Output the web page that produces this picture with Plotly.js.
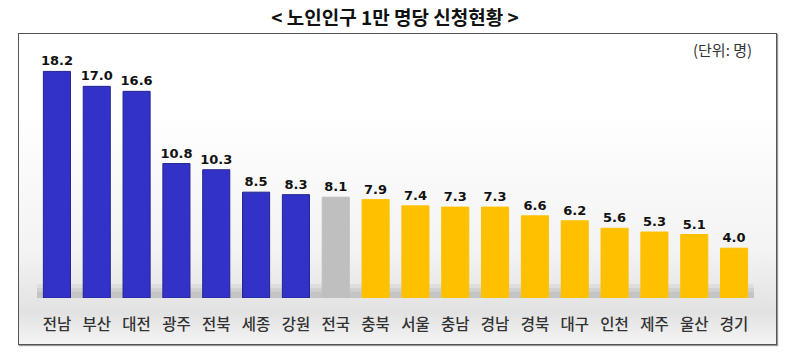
<!DOCTYPE html>
<html>
<head>
<meta charset="utf-8">
<script src="https://cdn.plot.ly/plotly-3.0.1.min.js"></script>
<style>
  html, body { margin: 0; padding: 0; background: #ffffff; }
  #wrap { position: relative; width: 790px; height: 364px; }
  #box {
    position: absolute; left: 18px; top: 33px; width: 757px; height: 310px;
    border: 1px solid #555; box-shadow: 1px 1px 1px #999;
    background: linear-gradient(to bottom, #ffffff 0%, #ffffff 25%, #f3f3f3 70%, #e2e2e2 90%, #f4f4f4 100%);
  }
  #chart { position: absolute; left: 0; top: 0; width: 790px; height: 364px; }
</style>
</head>
<body>
<div id="wrap">
  <div id="box"></div>
  <div id="chart"></div>
</div>
<script>
const categories = ['전남','부산','대전','광주','전북','세종','강원','전국','충북','서울','충남','경남','경북','대구','인천','제주','울산','경기'];
const values = [18.2, 17.0, 16.6, 10.8, 10.3, 8.5, 8.3, 8.1, 7.9, 7.4, 7.3, 7.3, 6.6, 6.2, 5.6, 5.3, 5.1, 4.0];
const groups = ['top','top','top','top','top','top','top','nation','rest','rest','rest','rest','rest','rest','rest','rest','rest','rest'];

const colorMap = { top: '#3232C8', nation: '#BFBFBF', rest: '#FFC000' };
const lineMap = { top: '#24248f', nation: '#BFBFBF', rest: '#FFC000' };

const trace = {
  type: 'bar',
  x: categories,
  y: values,
  width: 0.68,
  marker: {
    color: groups.map(g => colorMap[g]),
    line: { color: groups.map(g => lineMap[g]), width: 1 }
  },
  text: values.map(v => v.toFixed(1)),
  textposition: 'outside',
  constraintext: 'none',
  cliponaxis: false,
  textfont: { family: 'DejaVu Sans, Verdana, sans-serif', size: 13, color: '#111', weight: 'bold' },
  hoverinfo: 'skip'
};

const shadowLayers = [
  { y1: 1.1, a: 0.10 },
  { y1: 0.8, a: 0.12 },
  { y1: 0.5, a: 0.12 }
];

const layout = {
  width: 790, height: 364,
  margin: { l: 37, r: 36, t: 49, b: 66 },
  paper_bgcolor: 'rgba(0,0,0,0)',
  plot_bgcolor: 'rgba(0,0,0,0)',
  showlegend: false,
  bargap: 0.32,
  title: {
    text: '< 노인인구 1만 명당 신청현황 >',
    font: { family: 'Noto Sans CJK KR, sans-serif', size: 19, color: '#111', weight: 'bold' },
    x: 0.5, xanchor: 'center', y: 0.95, yanchor: 'middle', yref: 'container'
  },
  xaxis: {
    type: 'category',
    showgrid: false, zeroline: false, showline: false,
    ticks: 'outside', ticklen: 12, tickcolor: 'rgba(0,0,0,0)',
    tickfont: { family: 'Noto Sans CJK KR, sans-serif', size: 15.5, color: '#333', weight: 500 },
    fixedrange: true
  },
  yaxis: {
    range: [0, 20],
    showgrid: false, zeroline: false, showline: false, showticklabels: false, ticks: '',
    fixedrange: true
  },
  shapes: shadowLayers.map(s => ({
    type: 'rect', layer: 'below', xref: 'x', yref: 'y',
    x0: -0.5, x1: 17.5, y0: 0, y1: s.y1,
    fillcolor: 'rgba(120,120,120,' + s.a + ')', line: { width: 0 }
  })),
  annotations: [
    {
      text: '(단위: 명)', xref: 'paper', yref: 'paper', x: 1.0, y: 1.0,
      xanchor: 'right', yanchor: 'middle', showarrow: false,
      font: { family: 'Noto Sans CJK KR, sans-serif', size: 15, color: '#333' }
    }
  ]
};

Plotly.newPlot('chart', [trace], layout, { displayModeBar: false, staticPlot: true });
</script>
</body>
</html>
